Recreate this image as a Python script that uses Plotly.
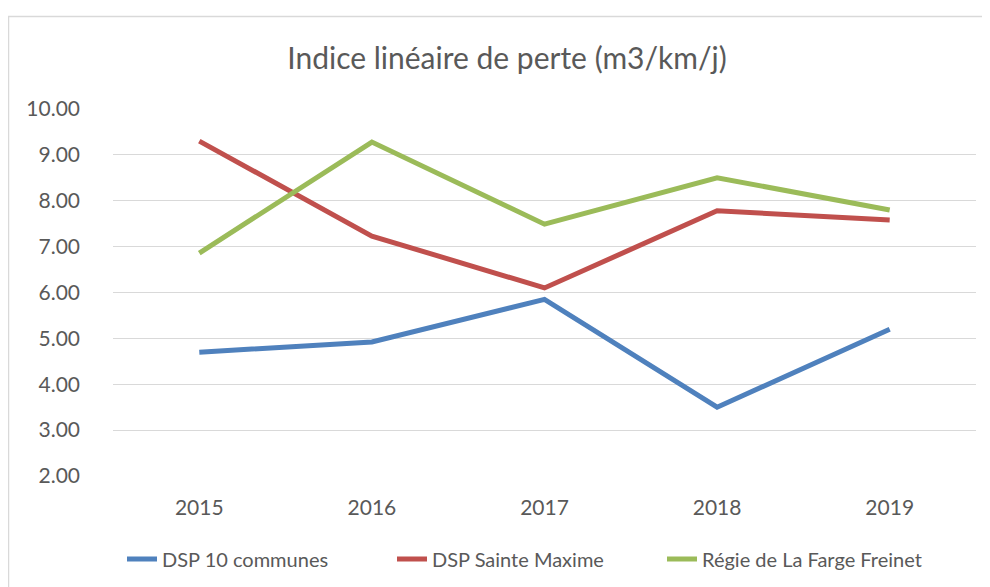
import plotly.graph_objects as go

years = ["2015", "2016", "2017", "2018", "2019"]
dsp_10_communes = [4.70, 4.92, 5.85, 3.50, 5.20]
dsp_sainte_maxime = [9.30, 7.23, 6.10, 7.78, 7.58]
regie_la_farge = [6.86, 9.28, 7.49, 8.50, 7.80]
y_ticks = [2, 3, 4, 5, 6, 7, 8, 9, 10]
y_tick_labels = ["2.00", "3.00", "4.00", "5.00", "6.00", "7.00", "8.00", "9.00", "10.00"]

FONT = "Lato"
GREY = "#595959"

fig = go.Figure()
for name, vals, col in [
    ("DSP 10 communes", dsp_10_communes, "#4f81bd"),
    ("DSP Sainte Maxime", dsp_sainte_maxime, "#c0504d"),
    ("Régie de La Farge Freinet", regie_la_farge, "#9bbb59"),
]:
    fig.add_trace(go.Scatter(x=years, y=vals, name=name, mode="lines",
                             line=dict(color=col, width=5)))

# page is offset by 8px (body margin)
OFF = 8
W, H = 990, 587
L = 113 - OFF
T = 109 - OFF
R = W - (976 - OFF)
B = H - (476 - OFF)
pw, ph = W - L - R, H - T - B

fig.update_layout(
    width=W, height=H,
    margin=dict(l=L, r=R, t=T, b=B),
    paper_bgcolor="white", plot_bgcolor="white",
    font=dict(family=FONT, color=GREY, size=21),
    title=dict(text="Indice linéaire de perte (m3/km/j)", x=(507 - OFF) / W, xanchor="center",
               y=1 - (58 - OFF) / H, yanchor="middle", font=dict(size=30, color=GREY, family=FONT)),
    xaxis=dict(type="category", range=[-0.5, 4.5], showgrid=False, showline=False,
               ticks="", ticklabelstandoff=17, tickfont=dict(size=21, color=GREY)),
    yaxis=dict(range=[2, 10], tickvals=y_ticks, ticktext=y_tick_labels, showgrid=True,
               gridcolor="#d9d9d9", gridwidth=1.3, zeroline=False, showline=False,
               ticks="", ticklabelstandoff=32, tickfont=dict(size=21, color=GREY)),
    legend=dict(orientation="h", x=(122 - OFF - L) / pw, xanchor="left",
                y=-(559 - 476) / ph, yanchor="middle",
                font=dict(size=20, color=GREY, family=FONT),
                entrywidth=225, itemwidth=30, tracegroupgap=0),
    showlegend=True,
)

fig.add_shape(type="rect", xref="paper", yref="paper",
              x0=(8.5 - OFF - L) / pw, x1=1.2, y0=-0.6, y1=(H - B - (16.5 - OFF)) / ph,
              line=dict(color="#d9d9d9", width=1.5), fillcolor="rgba(0,0,0,0)", layer="below")

fig.write_html("out.html")
